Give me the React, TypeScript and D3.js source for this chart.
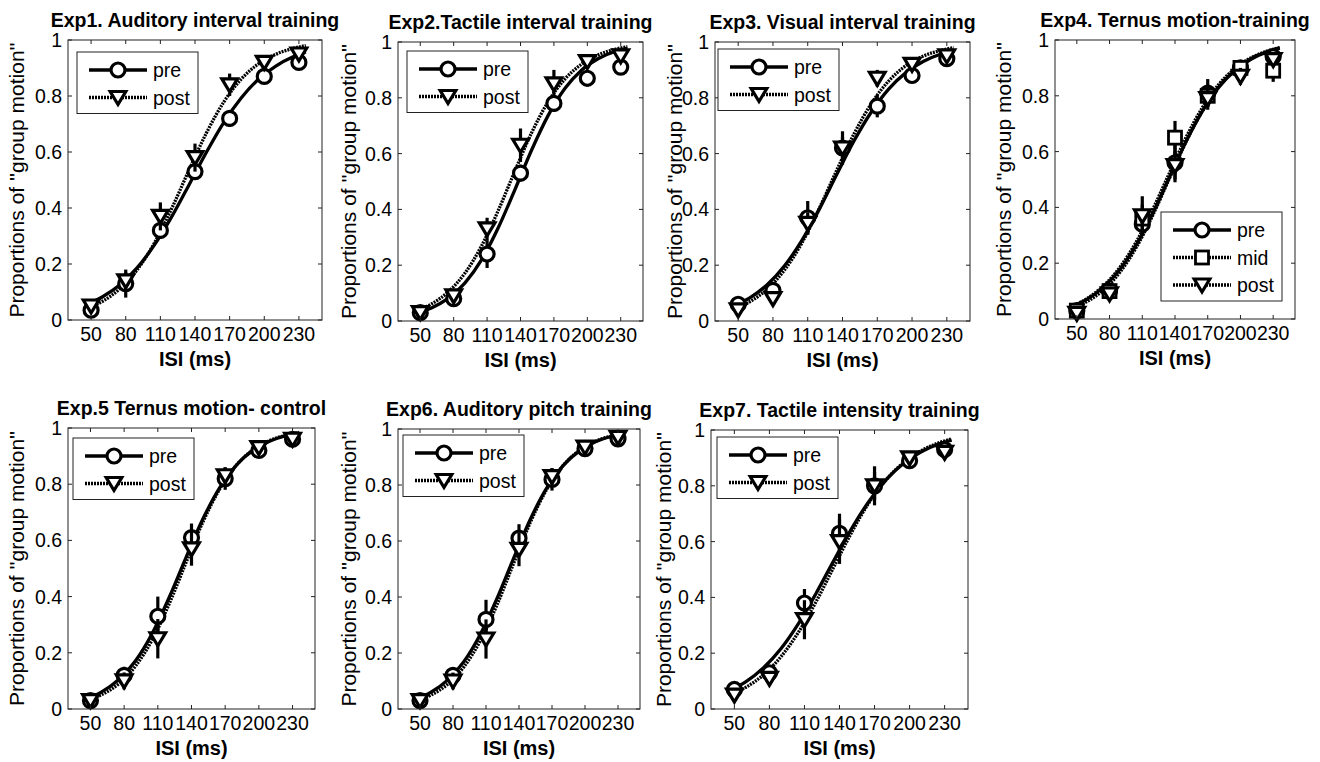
import * as d3 from "d3"

// ISI levels (ms) and axis setup
const isi = [50, 80, 110, 140, 170, 200, 230]
const fitIsi = [45, 60, 75, 90, 105, 120, 135, 150, 165, 180, 195, 210, 225, 236]
const yTicks = [0, 0.2, 0.4, 0.6, 0.8, 1]
const isiDomain = [30, 250]

const titles = [
  "Exp1. Auditory interval training",
  "Exp2.Tactile interval training",
  "Exp3. Visual interval training",
  "Exp4. Ternus motion-training",
  "Exp.5 Ternus motion- control",
  "Exp6. Auditory pitch training",
  "Exp7. Tactile intensity training",
]

// Exp1
const exp1Pre = [0.035, 0.13, 0.32, 0.53, 0.72, 0.87, 0.92]
const exp1PreErr = [0.01, 0.05, 0.03, 0.03, 0.03, 0.02, 0.02]
const exp1Post = [0.05, 0.14, 0.37, 0.58, 0.84, 0.92, 0.95]
const exp1PostErr = [0.01, 0.03, 0.05, 0.05, 0.04, 0.02, 0.01]
const exp1PreFit = [0.053, 0.083, 0.126, 0.187, 0.269, 0.37, 0.484, 0.6, 0.706, 0.793, 0.86, 0.907, 0.94, 0.957]
const exp1PostFit = [0.04, 0.067, 0.112, 0.18, 0.276, 0.4, 0.537, 0.669, 0.779, 0.86, 0.915, 0.949, 0.97, 0.98]

// Exp2
const exp2Pre = [0.03, 0.08, 0.24, 0.53, 0.78, 0.87, 0.91]
const exp2PreErr = [0.01, 0.02, 0.05, 0.03, 0.03, 0.03, 0.02]
const exp2Post = [0.03, 0.09, 0.33, 0.63, 0.85, 0.93, 0.95]
const exp2PostErr = [0.01, 0.02, 0.04, 0.06, 0.05, 0.02, 0.02]
const exp2PreFit = [0.027, 0.047, 0.081, 0.136, 0.219, 0.334, 0.471, 0.613, 0.738, 0.834, 0.9, 0.941, 0.966, 0.977]
const exp2PostFit = [0.035, 0.061, 0.104, 0.171, 0.269, 0.396, 0.538, 0.675, 0.787, 0.868, 0.921, 0.954, 0.974, 0.983]

// Exp3
const exp3Pre = [0.06, 0.11, 0.37, 0.62, 0.77, 0.88, 0.94]
const exp3PreErr = [0.01, 0.03, 0.06, 0.04, 0.04, 0.02, 0.01]
const exp3Post = [0.04, 0.08, 0.35, 0.62, 0.87, 0.92, 0.95]
const exp3PostErr = [0.01, 0.02, 0.04, 0.06, 0.03, 0.02, 0.01]
const exp3PreFit = [0.052, 0.083, 0.13, 0.198, 0.289, 0.401, 0.525, 0.646, 0.75, 0.832, 0.891, 0.931, 0.957, 0.97]
const exp3PostFit = [0.042, 0.069, 0.114, 0.183, 0.28, 0.404, 0.54, 0.671, 0.78, 0.861, 0.916, 0.95, 0.97, 0.98]

// Exp4
const exp4Pre = [0.03, 0.1, 0.34, 0.56, 0.81, 0.9, 0.94]
const exp4PreErr = [0.01, 0.02, 0.04, 0.07, 0.05, 0.02, 0.01]
const exp4Mid = [0.03, 0.1, 0.36, 0.65, 0.8, 0.9, 0.89]
const exp4MidErr = [0.01, 0.02, 0.05, 0.06, 0.04, 0.02, 0.04]
const exp4Post = [0.02, 0.09, 0.37, 0.55, 0.79, 0.87, 0.93]
const exp4PostErr = [0.01, 0.02, 0.07, 0.05, 0.04, 0.03, 0.02]
const exp4PreFit = [0.044, 0.072, 0.116, 0.18, 0.269, 0.382, 0.509, 0.635, 0.744, 0.83, 0.891, 0.932, 0.958, 0.971]
const exp4MidFit = [0.045, 0.075, 0.121, 0.188, 0.28, 0.396, 0.524, 0.65, 0.757, 0.84, 0.898, 0.937, 0.961, 0.973]
const exp4PostFit = [0.038, 0.064, 0.106, 0.17, 0.26, 0.375, 0.505, 0.634, 0.745, 0.832, 0.893, 0.934, 0.959, 0.972]

// Exp5
const exp5Pre = [0.03, 0.12, 0.33, 0.61, 0.82, 0.92, 0.96]
const exp5PreErr = [0.01, 0.03, 0.07, 0.05, 0.04, 0.01, 0.01]
const exp5Post = [0.03, 0.1, 0.25, 0.57, 0.83, 0.93, 0.96]
const exp5PostErr = [0.01, 0.03, 0.07, 0.06, 0.03, 0.01, 0.01]
const exp5PreFit = [0.035, 0.061, 0.104, 0.171, 0.269, 0.396, 0.538, 0.675, 0.787, 0.868, 0.921, 0.954, 0.974, 0.983]
const exp5PostFit = [0.029, 0.051, 0.089, 0.152, 0.246, 0.373, 0.52, 0.664, 0.782, 0.868, 0.923, 0.956, 0.975, 0.984]

// Exp6
const exp6Pre = [0.03, 0.12, 0.32, 0.61, 0.82, 0.93, 0.965]
const exp6PreErr = [0.01, 0.03, 0.07, 0.05, 0.04, 0.01, 0.01]
const exp6Post = [0.03, 0.1, 0.25, 0.57, 0.83, 0.935, 0.97]
const exp6PostErr = [0.01, 0.03, 0.07, 0.06, 0.03, 0.01, 0.01]
const exp6PreFit = [0.034, 0.06, 0.103, 0.17, 0.268, 0.395, 0.537, 0.675, 0.788, 0.869, 0.922, 0.955, 0.975, 0.984]
const exp6PostFit = [0.028, 0.05, 0.088, 0.151, 0.245, 0.372, 0.519, 0.664, 0.783, 0.869, 0.924, 0.957, 0.976, 0.985]

// Exp7
const exp7Pre = [0.07, 0.13, 0.38, 0.63, 0.8, 0.89, 0.93]
const exp7PreErr = [0.01, 0.02, 0.05, 0.07, 0.07, 0.03, 0.01]
const exp7Post = [0.05, 0.11, 0.32, 0.6, 0.8, 0.9, 0.92]
const exp7PostErr = [0.01, 0.02, 0.07, 0.08, 0.05, 0.02, 0.01]
const exp7PreFit = [0.064, 0.098, 0.148, 0.217, 0.307, 0.415, 0.531, 0.644, 0.743, 0.822, 0.881, 0.922, 0.95, 0.964]
const exp7PostFit = [0.049, 0.078, 0.123, 0.188, 0.276, 0.385, 0.508, 0.63, 0.738, 0.822, 0.884, 0.926, 0.954, 0.968]

const pre = (v, e, f) => ({ label: "pre", marker: "circle", dotted: false, values: v, err: e, fit: f })
const mid = (v, e, f) => ({ label: "mid", marker: "square", dotted: true, values: v, err: e, fit: f })
const post = (v, e, f) => ({ label: "post", marker: "triangle", dotted: true, values: v, err: e, fit: f })

const panels = [
  [pre(exp1Pre, exp1PreErr, exp1PreFit), post(exp1Post, exp1PostErr, exp1PostFit)],
  [pre(exp2Pre, exp2PreErr, exp2PreFit), post(exp2Post, exp2PostErr, exp2PostFit)],
  [pre(exp3Pre, exp3PreErr, exp3PreFit), post(exp3Post, exp3PostErr, exp3PostFit)],
  [pre(exp4Pre, exp4PreErr, exp4PreFit), mid(exp4Mid, exp4MidErr, exp4MidFit), post(exp4Post, exp4PostErr, exp4PostFit)],
  [pre(exp5Pre, exp5PreErr, exp5PreFit), post(exp5Post, exp5PostErr, exp5PostFit)],
  [pre(exp6Pre, exp6PreErr, exp6PreFit), post(exp6Post, exp6PostErr, exp6PostFit)],
  [pre(exp7Pre, exp7PreErr, exp7PreFit), post(exp7Post, exp7PostErr, exp7PostFit)],
]

// layout: plot box [left, right, top, bottom], legend offset, ylabel offset
const frames = [
  [68, 322, 40, 320],
  [398, 643, 42, 321],
  [715, 970, 42, 321],
  [1055, 1295, 40, 319],
  [68, 315, 428, 709],
  [398, 640, 429, 709],
  [711, 968, 430, 709],
]
const legendOffsets = [[9, 12], [9, 9], [3, 7], [106, 172], [5, 10], [5, 6], [6, 7]]
const ylabelOffsets = [-44, -42, -33, -44, -44, -42, -40]

const FONT = "'Liberation Sans', Arial, Helvetica, sans-serif"
const DOTS = "2 1"
const TICK_FONT = 19.5

function Marker({ kind, cx, cy }) {
  if (kind === "circle") {
    return <circle cx={cx} cy={cy} r={7} fill="#fff" stroke="#000" strokeWidth={3.2} />
  }
  if (kind === "square") {
    return <rect x={cx - 6.5} y={cy - 6.5} width={13} height={13} fill="#fff" stroke="#000" strokeWidth={2.8} />
  }
  return (
    <path
      d={`M${cx - 7.8},${cy - 6} L${cx + 7.8},${cy - 6} L${cx},${cy + 7} Z`}
      fill="#fff"
      stroke="#000"
      strokeWidth={3.2}
      strokeLinejoin="miter"
    />
  )
}

function Panel({ idx }) {
  const [l, r, t, b] = frames[idx]
  const series = panels[idx]
  const x = d3.scaleLinear().domain(isiDomain).range([l, r])
  const y = d3.scaleLinear().domain([0, 1]).range([b, t])
  const line = d3
    .line()
    .x((d) => x(d[0]))
    .y((d) => y(d[1]))
    .curve(d3.curveMonotoneX)

  const [lx, ly] = legendOffsets[idx]
  const legX = l + lx
  const legY = t + ly
  const legH = 18 + (series.length - 1) * 27.5 + 16
  const tick = 4

  return (
    <g>
      {/* fitted curves */}
      {series.map((s, i) => (
        <path
          key={"fit" + i}
          d={line(fitIsi.map((v, j) => [v, s.fit[j]]))}
          fill="none"
          stroke="#000"
          strokeWidth={3.3}
          strokeDasharray={s.dotted ? DOTS : null}
        />
      ))}

      {/* error bars + markers */}
      {series.map((s, i) => (
        <g key={"pts" + i}>
          {isi.map((v, j) => (
            <line
              key={"e" + j}
              x1={x(v)}
              x2={x(v)}
              y1={y(s.values[j] - s.err[j])}
              y2={y(s.values[j] + s.err[j])}
              stroke="#000"
              strokeWidth={3.2}
            />
          ))}
          {isi.map((v, j) => (
            <Marker key={"m" + j} kind={s.marker} cx={x(v)} cy={y(s.values[j])} />
          ))}
        </g>
      ))}

      {/* axes box */}
      <rect x={l} y={t} width={r - l} height={b - t} fill="none" stroke="#222" strokeWidth={1} />
      {isi.map((v) => (
        <g key={"xt" + v}>
          <line x1={x(v)} x2={x(v)} y1={b} y2={b - tick} stroke="#222" />
          <line x1={x(v)} x2={x(v)} y1={t} y2={t + tick} stroke="#222" />
          <text x={x(v)} y={b + 21} textAnchor="middle" fontSize={TICK_FONT} fontFamily={FONT}>
            {v}
          </text>
        </g>
      ))}
      {yTicks.map((v) => (
        <g key={"yt" + v}>
          <line x1={l} x2={l + tick} y1={y(v)} y2={y(v)} stroke="#222" />
          <line x1={r} x2={r - tick} y1={y(v)} y2={y(v)} stroke="#222" />
          <text x={l - 6} y={y(v)} dy="0.36em" textAnchor="end" fontSize={TICK_FONT} fontFamily={FONT}>
            {String(v)}
          </text>
        </g>
      ))}

      {/* labels */}
      <text x={(l + r) / 2} y={t - 13} textAnchor="middle" fontSize={19.5} fontWeight="bold" fontFamily={FONT}>
        {titles[idx]}
      </text>
      <text x={(l + r) / 2} y={b + 46} textAnchor="middle" fontSize={20} fontWeight="bold" fontFamily={FONT}>
        ISI (ms)
      </text>
      <text
        transform={`translate(${l + ylabelOffsets[idx]},${(t + b) / 2}) rotate(-90)`}
        textAnchor="middle"
        fontSize={21}
        fontFamily={FONT}
      >
        {"Proportions of ''group motion''"}
      </text>

      {/* legend */}
      <rect x={legX} y={legY} width={121} height={legH} fill="#fff" stroke="#222" strokeWidth={1} />
      {series.map((s, i) => {
        const ry = legY + 18 + i * 27.5
        return (
          <g key={"leg" + i}>
            <line
              x1={legX + 12}
              x2={legX + 70}
              y1={ry}
              y2={ry}
              stroke="#000"
              strokeWidth={3.3}
              strokeDasharray={s.dotted ? DOTS : null}
            />
            <Marker kind={s.marker} cx={legX + 41} cy={ry} />
            <text x={legX + 76} y={ry} dy="0.36em" fontSize={TICK_FONT} fontFamily={FONT}>
              {s.label}
            </text>
          </g>
        )
      })}
    </g>
  )
}

export default function App() {
  return (
    <div style={{ position: "absolute", left: 0, top: 0 }}>
      <svg width={1320} height={762} style={{ display: "block", background: "#fff" }}>
        {panels.map((_, i) => (
          <Panel key={i} idx={i} />
        ))}
      </svg>
    </div>
  )
}
